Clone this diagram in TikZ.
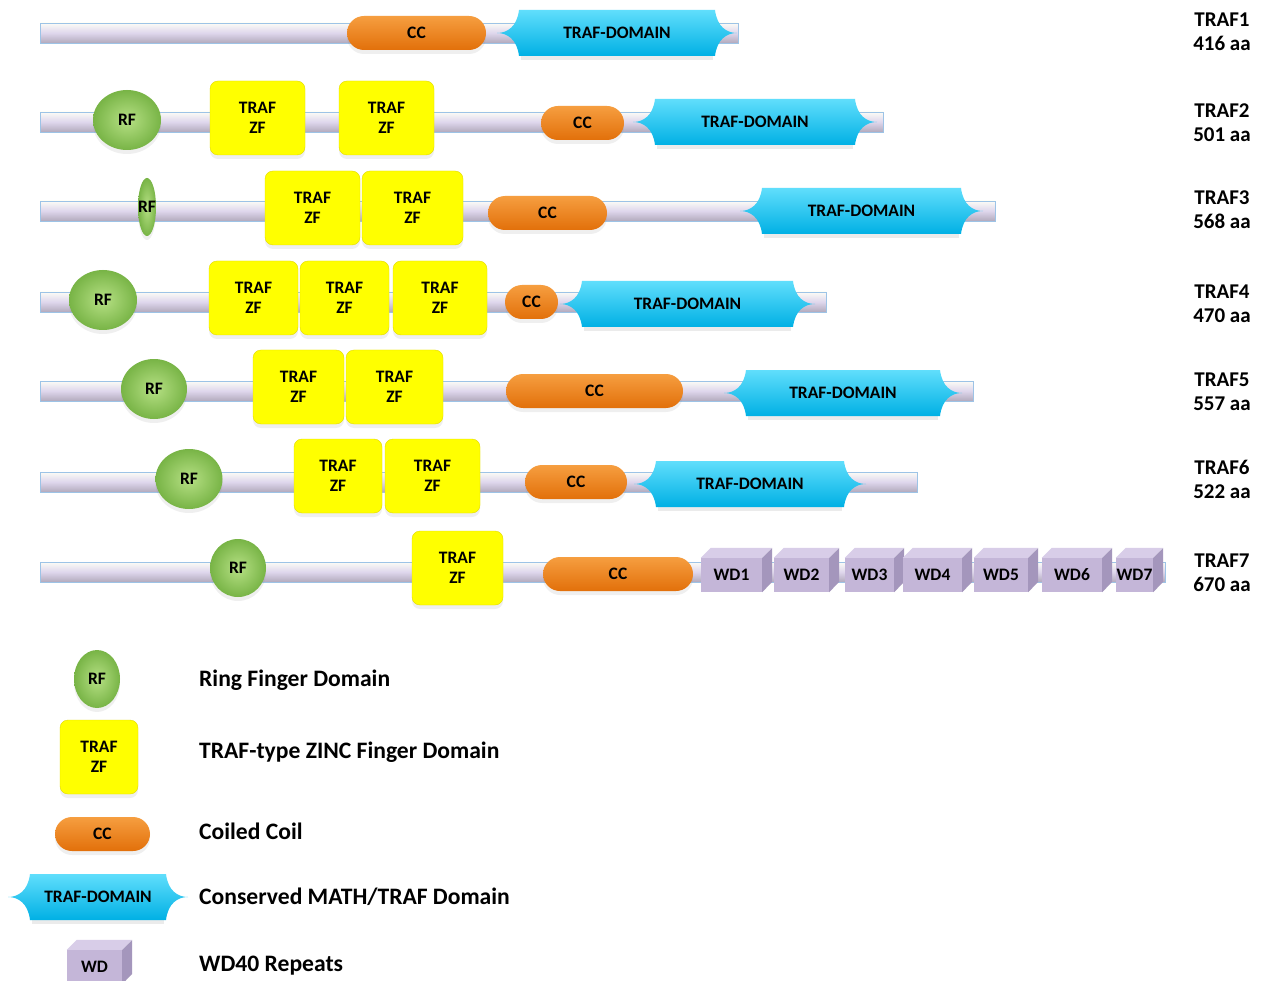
\documentclass[tikz,border=0pt]{standalone}
\usepackage{fontspec}
\setmainfont{Carlito}
\usepackage{tikz}
\usetikzlibrary{shapes.geometric}
\usetikzlibrary{shadows}

\definecolor{barline}{RGB}{157,195,230}
\definecolor{bartop}{RGB}{252,252,246}
\definecolor{barmid}{RGB}{222,214,236}
\definecolor{barbot}{RGB}{178,170,188}
\definecolor{rfin}{RGB}{182,224,132}
\definecolor{rfout}{RGB}{120,180,70}
\definecolor{zfyellow}{RGB}{255,255,0}
\definecolor{zfedge}{RGB}{228,218,0}
\definecolor{cctop}{RGB}{246,158,64}
\definecolor{ccbot}{RGB}{226,112,10}
\definecolor{tdtop}{RGB}{96,222,252}
\definecolor{tdbot}{RGB}{0,176,228}
\definecolor{wdfront}{RGB}{196,182,216}
\definecolor{wdtop}{RGB}{216,205,232}
\definecolor{wdside}{RGB}{164,150,188}

\begin{document}
\begin{tikzpicture}[x=1pt,y=-1pt,font=\bfseries\fontsize{17.5}{20}\selectfont]
  \tikzset{bar/.style = {shape=rectangle,draw=barline,line width=0.8pt,top color=bartop,bottom color=barbot,middle color=barmid,minimum height=20,inner sep=0pt,anchor=west}}
  \tikzset{glow/.style = {drop shadow={opacity=0.12,shadow xshift=0pt,shadow yshift=-4pt}}}
  \tikzset{rf/.style = {shape=ellipse,inner sep=0pt,inner color=rfin,outer color=rfout,glow}}
  \tikzset{zf/.style = {shape=rectangle,rounded corners=8pt,fill=zfyellow,draw=zfedge,minimum height=74,align=center,inner sep=0pt,glow}}
  \tikzset{cc/.style = {shape=rectangle,rounded corners=17pt,top color=cctop,bottom color=ccbot,minimum height=34,inner sep=0pt,glow}}
  \tikzset{td/.style = {top color=tdtop,bottom color=tdbot}}
  \tikzset{wd/.style = {shape=rectangle,fill=wdfront,minimum height=34,inner sep=0pt}}
  \tikzset{protname/.style = {align=center,font=\bfseries\fontsize{21}{24}\selectfont}}
  \tikzset{legtext/.style = {anchor=west,inner sep=0pt,font=\bfseries\fontsize{23.6}{26}\selectfont}}

  \useasboundingbox[fill=white] (0,0) rectangle (1263,981);

  % backbones and names
  \foreach \r/\y/\len/\aa/\ly in {1/33/698/416/32, 2/122/843/501/123, 3/211/955/568/210, 4/302/786/470/304,
                                  5/391/933/557/392, 6/482/877/522/479, 7/572/1125/670/573} {
    \node[bar,minimum width=\len] (bar\r) at (40,\y) {};
    \node[protname] (name\r) at (1222,\ly) {TRAF\r\\\aa{} aa};
  }

  % ring fingers
  \foreach \r/\x/\y/\w/\h in {2/127/120/68/60, 3/147/207/18/58, 4/103/300/68/60, 5/154/389/66/60,
                              6/189/479/67/60, 7/238/568/56/58, L/97/679/46/58}
    \node[rf,minimum width=\w,minimum height=\h,label=center:RF] (rf\r) at (\x,\y) {};

  % TRAF zinc fingers
  \foreach \r/\i/\xa/\xb/\y in {2/1/210/305/118, 2/2/339/434/118, 3/1/265/360/208, 3/2/362/463/208,
                                4/1/209/298/298, 4/2/300/389/298, 4/3/393/487/298, 5/1/253/344/387,
                                5/2/346/443/387, 6/1/294/382/476, 6/2/385/480/476, 7/1/412/503/568,
                                L/1/60/138/757}
    \node[zf,minimum width=\xb-\xa] (zf\r\i) at ({(\xa+\xb)/2},\y) {TRAF\\ZF};

  % coiled coils
  \foreach \r/\xa/\xb/\y in {1/347/486/33, 2/541/624/123, 3/488/607/213, 4/505/558/302,
                             5/506/683/391, 6/525/627/482, 7/543/693/574, L/55/150/834}
    \node[cc,minimum width=\xb-\xa] (cc\r) at ({(\xa+\xb)/2},\y) {CC};

  % TRAF domains
  \foreach \r/\xa/\xb/\y in {1/497/737/33, 2/633/877/122, 3/740/983/211, 4/560/815/304,
                             5/724/962/393, 6/634/866/484, L/8/188/897} {
    \fill[black,opacity=0.08] (\xa+24,\y-19) -- (\xb-24,\y-19) -- (\xb-24,\y+27) -- (\xa+24,\y+27) -- cycle;
    \shade[td] (\xa+22,\y-23) -- (\xb-22,\y-23)
      .. controls (\xb-20,\y-6) and (\xb-10,\y) .. (\xb,\y)
      .. controls (\xb-10,\y) and (\xb-20,\y+6) .. (\xb-22,\y+23)
      -- (\xa+22,\y+23)
      .. controls (\xa+20,\y+6) and (\xa+10,\y) .. (\xa,\y)
      .. controls (\xa+10,\y) and (\xa+20,\y-6) .. cycle;
    \node (td\r) at ({(\xa+\xb)/2},\y) {TRAF-DOMAIN};
  }

  % WD40 repeats
  \foreach \n/\t/\xa/\xb/\y in {1/WD1/701/762/575, 2/WD2/774/829/575, 3/WD3/845/894/575, 4/WD4/903/962/575,
                                5/WD5/974/1028/575, 6/WD6/1042/1102/575, 7/WD7/1116/1153/575, L/WD/67/122/967} {
    \node[wd,minimum width=\xb-\xa] (wd\n) at ({(\xa+\xb)/2},\y) {\t};
    \fill[wdtop] (wd\n.north west) -- ++(10,-10) -- ++(\xb-\xa,0) -- (wd\n.north east) -- cycle;
    \fill[wdside] (wd\n.north east) -- ++(10,-10) -- ++(0,34) -- (wd\n.south east) -- cycle;
  }

  % legend
  \node[legtext] (legrf) at (199,680) {Ring Finger Domain};
  \node[legtext] (legzf) at (199,752) {TRAF-type ZINC Finger Domain};
  \node[legtext] (legcc) at (199,831) {Coiled Coil};
  \node[legtext] (legtd) at (199,897) {Conserved MATH/TRAF Domain};
  \node[legtext] (legwd) at (199,966) {WD40 Repeats};
\end{tikzpicture}
\end{document}
